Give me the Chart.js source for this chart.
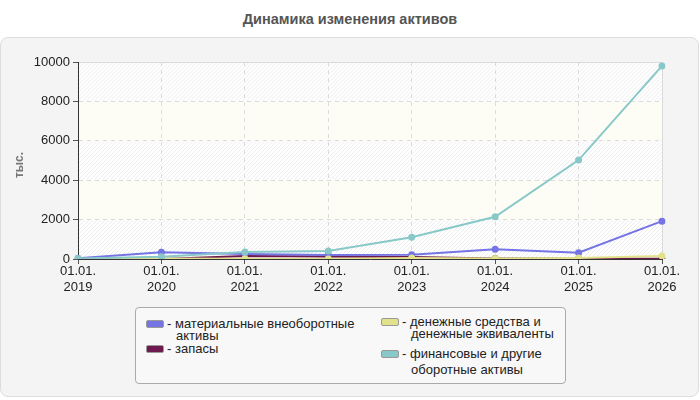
<!DOCTYPE html>
<html><head><meta charset="utf-8">
<script src="https://cdn.jsdelivr.net/npm/chart.js@4.4.1/dist/chart.umd.min.js"></script>
<style>
html,body{margin:0;padding:0;background:#fff;width:700px;height:400px;overflow:hidden;font-family:"Liberation Sans",Arial,sans-serif;}
#title{position:absolute;left:0;top:11px;width:700px;text-align:center;font-weight:bold;font-size:14.5px;color:#555;}
#box{position:absolute;left:0;top:37px;width:697px;height:358px;border:1px solid #ddd;border-radius:8px;background:#f4f4f4;}
#c{position:absolute;left:0;top:0;}
#legend{position:absolute;left:135px;top:307px;width:429px;height:75px;border:1px solid #aaa;border-radius:4px;background:#f8f8f8;}
.sw{position:absolute;width:16px;height:6px;border:1px solid #999;border-radius:2px;}
.lt{position:absolute;font-size:13px;color:#222;white-space:nowrap;line-height:13px;}
</style></head><body>
<div id="title">Динамика изменения активов</div>
<div id="box"></div>
<canvas id="c" width="700" height="400"></canvas>
<div id="legend"></div>
<script>
const categories = [["01.01.","2019"],["01.01.","2020"],["01.01.","2021"],["01.01.","2022"],["01.01.","2023"],["01.01.","2024"],["01.01.","2025"],["01.01.","2026"]];
const seriesNames = ["материальные внеоборотные активы","запасы","денежные средства и денежные эквиваленты","финансовые и другие оборотные активы"];
const material = [40, 340, 260, 200, 220, 490, 320, 1920];
const stocks = [0, 0, 150, 130, 100, 20, 20, 10];
const cash = [0, 20, 10, 0, 50, 30, 50, 150];
const financial = [30, 110, 350, 410, 1100, 2140, 5020, 9800];
const yTicks = [0, 2000, 4000, 6000, 8000, 10000];
const yAxisTitle = "тыс.";

const colors = ["#7474e4", "#6e1a4e", "#e2e28c", "#88c8c8"];

const bgPlugin = {
  id: 'bg',
  beforeDraw(chart) {
    const {ctx, chartArea: a, scales: {y}} = chart;
    ctx.save();
    for (let i = 0; i < yTicks.length - 1; i++) {
      const yb = y.getPixelForValue(yTicks[i]);
      const yt = y.getPixelForValue(yTicks[i + 1]);
      const hatched = (i % 2 === 0);
      ctx.fillStyle = hatched ? '#ffffff' : '#fdfdf6';
      ctx.fillRect(a.left, yt, a.right - a.left, yb - yt);
      if (hatched) {
        ctx.save();
        ctx.beginPath(); ctx.rect(a.left, yt, a.right - a.left, yb - yt); ctx.clip();
        ctx.strokeStyle = '#ececec'; ctx.lineWidth = 1;
        ctx.beginPath();
        for (let x = a.left - 300; x < a.right + 300; x += 4) {
          ctx.moveTo(x, yb); ctx.lineTo(x + (yb - yt), yt);
        }
        ctx.stroke();
        ctx.restore();
      }
    }
    ctx.strokeStyle = '#d8d8d8'; ctx.lineWidth = 1;
    ctx.beginPath();
    ctx.moveTo(a.left, a.top + 0.5); ctx.lineTo(a.right + 0.5, a.top + 0.5); ctx.lineTo(a.right + 0.5, a.bottom);
    ctx.stroke();
    ctx.fillStyle = '#777'; ctx.font = 'bold 12px "Liberation Sans", Arial, sans-serif';
    ctx.translate(20, 165); ctx.rotate(-Math.PI / 2);
    ctx.textAlign = 'center'; ctx.textBaseline = 'middle';
    ctx.fillText(yAxisTitle, 0, 0);
    ctx.restore();
  }
};

const dataArrays = [material, stocks, cash, financial];
const orders = [2, 3, 1, 0];
const datasets = dataArrays.map((d, i) => ({
  label: seriesNames[i], data: d, borderColor: colors[i], backgroundColor: colors[i],
  borderWidth: 2, pointRadius: 3.5, pointHoverRadius: 3.5, pointBorderWidth: 0, tension: 0, order: orders[i]
}));

const tickFont = { size: 13, family: '"Liberation Sans", Arial, sans-serif' };

new Chart(document.getElementById('c'), {
  type: 'line',
  data: { labels: categories, datasets },
  options: {
    responsive: false, animation: false, devicePixelRatio: 1,
    layout: { padding: { top: 62, right: 38, left: 0, bottom: 0 } },
    plugins: { legend: { display: false }, tooltip: { enabled: false } },
    scales: {
      x: {
        offset: false,
        grid: { color: '#dcdcdc', tickLength: 5, tickColor: '#555' },
        border: { display: true, color: '#333', dash: [4, 4] },
        ticks: { color: '#222', font: tickFont, maxRotation: 0, autoSkip: false, padding: 0 },
        afterFit(s) { s.height = 141; }
      },
      y: {
        min: 0, max: 10000,
        afterBuildTicks(s) { s.ticks = yTicks.map(v => ({ value: v })); },
        grid: { color: '#dcdcdc', tickLength: 5, tickColor: '#555' },
        border: { display: true, color: '#333', dash: [4, 4] },
        ticks: { color: '#222', font: tickFont, padding: 3, callback: v => String(v) },
        afterFit(s) { s.width = 78; }
      }
    }
  },
  plugins: [bgPlugin]
});

// HTML legend built from series names
const legend = document.getElementById('legend');
const items = [
  { c: 0, sx: 10, sy: 12, lines: ["- материальные внеоборотные", "активы"], tx: 31, ty: 9, lh: 12 },
  { c: 1, sx: 10, sy: 37, lines: ["- запасы"], tx: 31, ty: 34, lh: 12 },
  { c: 2, sx: 245, sy: 10, lines: ["- денежные средства и", "денежные эквиваленты"], tx: 266, ty: 7, lh: 12 },
  { c: 3, sx: 245, sy: 42, lines: ["- финансовые и другие", "оборотные активы"], tx: 266, ty: 39, lh: 16 }
];
items.forEach(it => {
  const sw = document.createElement('div'); sw.className = 'sw';
  sw.style.left = it.sx + 'px'; sw.style.top = it.sy + 'px'; sw.style.background = colors[it.c];
  legend.appendChild(sw);
  it.lines.forEach((ln, k) => {
    const t = document.createElement('div'); t.className = 'lt';
    t.style.left = (it.tx + (k > 0 ? 9 : 0)) + 'px'; t.style.top = (it.ty + k * it.lh) + 'px';
    t.textContent = ln; legend.appendChild(t);
  });
});
</script>
</body></html>
